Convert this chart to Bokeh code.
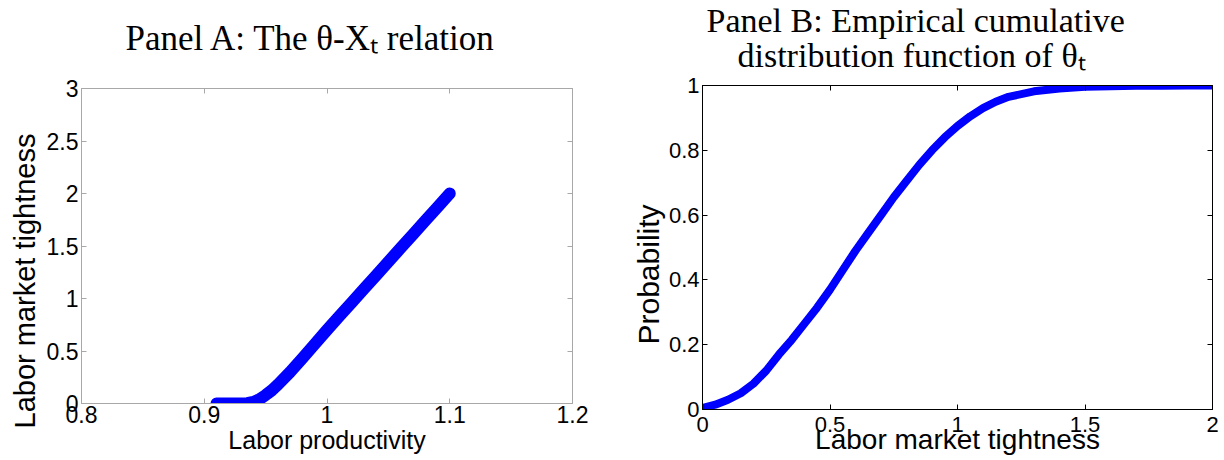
from bokeh.plotting import figure
from bokeh.layouts import row, column
from bokeh.models import Range1d, FixedTicker, LinearAxis, Title
from bokeh.core.properties import value
from bokeh.embed import file_html
from bokeh.resources import INLINE

# ---------------- Panel A data (theta vs labor productivity) ----------------
prod_x = [0.91, 0.92, 0.93, 0.935, 0.94, 0.945, 0.95, 0.955, 0.96, 0.97, 0.98,
          0.99, 1.00, 1.01, 1.02, 1.03, 1.04, 1.05, 1.06, 1.07, 1.08, 1.09, 1.10]
tight_y = [0.0, 0.0, 0.0, 0.003, 0.015, 0.04, 0.08, 0.125, 0.18, 0.30, 0.43,
           0.565, 0.70, 0.83, 0.96, 1.09, 1.22, 1.35, 1.48, 1.61, 1.74, 1.87, 2.0]
a_xticks = [0.8, 0.9, 1.0, 1.1, 1.2]
a_xlabels = ["0.8", "0.9", "1", "1.1", "1.2"]
a_yticks = [0, 0.5, 1, 1.5, 2, 2.5, 3]
a_ylabels = ["0", "0.5", "1", "1.5", "2", "2.5", "3"]

# ---------------- Panel B data (empirical CDF of theta) ----------------
theta = [0.0, 0.05, 0.1, 0.15, 0.2, 0.25, 0.3, 0.35, 0.4, 0.45, 0.5, 0.55, 0.6,
         0.65, 0.7, 0.75, 0.8, 0.85, 0.9, 0.95, 1.0, 1.05, 1.1, 1.15, 1.2, 1.3,
         1.4, 1.5, 1.6, 1.7, 1.8, 1.9, 2.0]
cdf = [0.005, 0.015, 0.03, 0.05, 0.08, 0.12, 0.17, 0.215, 0.265, 0.315, 0.37,
       0.43, 0.49, 0.545, 0.60, 0.655, 0.705, 0.755, 0.80, 0.84, 0.875, 0.905,
       0.93, 0.95, 0.965, 0.982, 0.991, 0.996, 0.998, 0.999, 0.9995, 1.0, 1.0]
b_xticks = [0, 0.5, 1, 1.5, 2]
b_xlabels = ["0", "0.5", "1", "1.5", "2"]
b_yticks = [0, 0.2, 0.4, 0.6, 0.8, 1]
b_ylabels = ["0", "0.2", "0.4", "0.6", "0.8", "1"]

title_a = ["Panel A: The θ-Xₜ relation"]
title_b = ["Panel B: Empirical cumulative", "distribution function of θₜ"]

SANS = "Liberation Sans"
SERIF = "Liberation Serif"
BLUE = "#0000ff"
GRAY = "#a8a8a8"


def style_axis(ax, ticks, labels, color, size, label_size, tick_standoff, label_standoff):
    ax.ticker = FixedTicker(ticks=ticks)
    ax.major_label_overrides = {t: l for t, l in zip(ticks, labels)}
    ax.minor_tick_line_color = None
    ax.major_tick_in = 5
    ax.major_tick_out = 0
    ax.axis_line_color = color
    ax.major_tick_line_color = color
    ax.major_label_text_color = "black"
    ax.major_label_text_font = SANS
    ax.major_label_text_font_size = size
    ax.major_label_standoff = tick_standoff
    ax.axis_label_text_font = SANS
    ax.axis_label_text_font_size = label_size
    ax.axis_label_text_font_style = "normal"
    ax.axis_label_text_color = "black"
    ax.axis_label_standoff = label_standoff


def mirror_axis(p, loc, ticks, color):
    ax = LinearAxis(ticker=FixedTicker(ticks=ticks))
    ax.major_label_overrides = {t: "" for t in ticks}
    ax.major_label_text_font_size = "0px"
    ax.major_label_standoff = 0
    ax.minor_tick_line_color = None
    ax.major_tick_in = 5
    ax.major_tick_out = 0
    ax.axis_line_color = color
    ax.major_tick_line_color = color
    p.add_layout(ax, loc)


def side_title(text, size, offset, standoff):
    return Title(text=text, align="left", offset=offset, text_font=SANS,
                 text_font_size=size, text_font_style="normal",
                 text_color="black", standoff=standoff)


def header(height, xs, ys, texts, size):
    # a blank strip whose ranges equal its pixel size, used to hold the titles
    h = figure(width=612, height=height, output_backend="svg", toolbar_location=None,
               x_range=Range1d(0, 612), y_range=Range1d(height, 0),
               min_border=0, frame_align=False)
    h.axis.visible = False
    h.grid.visible = False
    h.outline_line_color = None
    h.text(x=xs, y=ys, text=texts, text_font=value(SERIF), text_font_size=size,
           text_color="black", text_align="left", text_baseline="alphabetic")
    return h


# ---------------- Panel A ----------------
pa = figure(width=612, height=390, output_backend="svg", toolbar_location=None,
            x_range=Range1d(0.8, 1.2), y_range=Range1d(0, 3),
            min_border_left=81, min_border_right=40, min_border_top=18,
            min_border_bottom=57, x_axis_label="Labor productivity",
            frame_align=False)
pa.xgrid.visible = False
pa.ygrid.visible = False
pa.outline_line_color = GRAY
pa.background_fill_color = "white"
pa.border_fill_color = "white"
style_axis(pa.xaxis[0], a_xticks, a_xlabels, GRAY, "23px", "25px", 2, 0)
style_axis(pa.yaxis[0], a_yticks, a_ylabels, GRAY, "23px", "29px", 3, 10)
mirror_axis(pa, "above", a_xticks, GRAY)
mirror_axis(pa, "right", a_yticks, GRAY)
pa.line(prod_x, tight_y, line_width=12, line_color=BLUE, line_cap="round",
        line_join="round")
pa.add_layout(side_title("Labor market tightness", "29px", -25, 6), "left")
head_a = header(70, [125], [38], title_a, "35px")

# ---------------- Panel B ----------------
pb = figure(width=612, height=386, output_backend="svg", toolbar_location=None,
            x_range=Range1d(0, 2), y_range=Range1d(0, 1),
            min_border_left=90, min_border_right=12, min_border_top=11,
            min_border_bottom=51, x_axis_label="Labor market tightness",
            frame_align=False)
pb.xgrid.visible = False
pb.ygrid.visible = False
pb.outline_line_color = "black"
pb.background_fill_color = "white"
pb.border_fill_color = "white"
style_axis(pb.xaxis[0], b_xticks, b_xlabels, "black", "22px", "28px", 7, -11)
style_axis(pb.yaxis[0], b_yticks, b_ylabels, "black", "22px", "28px", 3, 5)
mirror_axis(pb, "above", b_xticks, "black")
mirror_axis(pb, "right", b_yticks, "black")
pb.line(theta, cdf, line_width=8, line_color=BLUE, line_cap="butt",
        line_join="round")
pb.add_layout(side_title("Probability", "30px", 65, 1), "left")
head_b = header(74, [94, 125], [20, 55], title_b, "34px")

layout = row(column(head_a, pa), column(head_b, pb))
open("out.html", "w").write(file_html(layout, INLINE))
